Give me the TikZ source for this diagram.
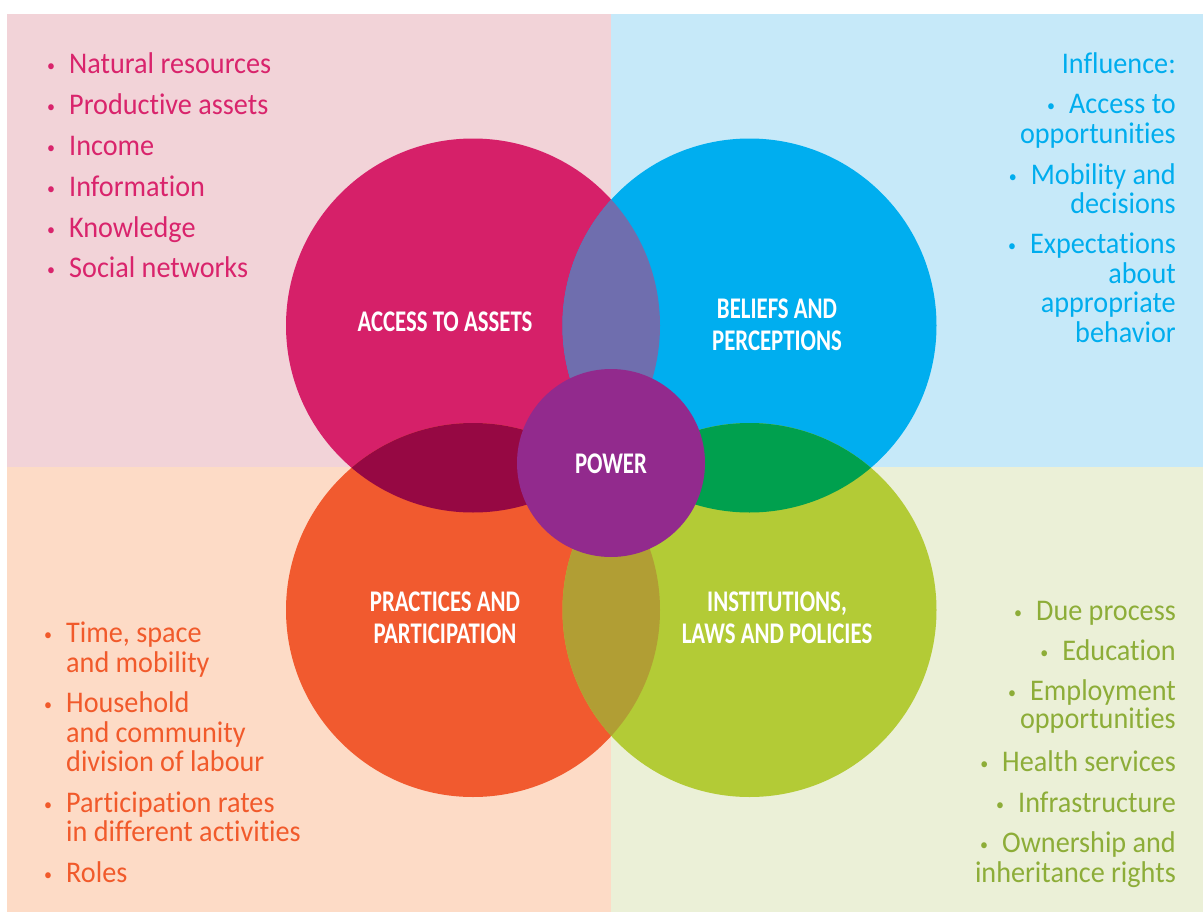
\documentclass[tikz,border=0pt]{standalone}
\usepackage{fontspec}
\setmainfont{Carlito}[FakeStretch=0.94, Ligatures={TeX,NoCommon}]
\newfontfamily\headfont{Carlito}[FakeStretch=0.76, Ligatures={TeX,NoCommon}]
\definecolor{bgpink}{HTML}{F2D3D8}
\definecolor{bgblue}{HTML}{C6E9F9}
\definecolor{bgpeach}{HTML}{FDDBC6}
\definecolor{bggreen}{HTML}{EBF0D7}
\definecolor{cpink}{HTML}{D62069}
\definecolor{cblue}{HTML}{00AEEF}
\definecolor{corange}{HTML}{F15A2F}
\definecolor{cgreen}{HTML}{B3CB36}
\definecolor{cpower}{HTML}{922A8D}
\definecolor{ovPB}{HTML}{6F6EAE}
\definecolor{ovPO}{HTML}{960843}
\definecolor{ovBG}{HTML}{00A04E}
\definecolor{ovOG}{HTML}{B19E34}
\definecolor{tpink}{HTML}{D9246C}
\definecolor{tblue}{HTML}{00ADEE}
\definecolor{torange}{HTML}{F15A2B}
\definecolor{tgreen}{HTML}{8DAD38}
\newcommand\bul{{\fontsize{17pt}{17pt}\selectfont\raisebox{1.5pt}{•}}}
\newcommand\bl[1]{\llap{\bul\hspace{#1}}}
\begin{document}
\begin{tikzpicture}[x=1pt,y=-1pt,
  body/.style={font=\fontsize{30pt}{30pt}\selectfont, inner sep=0pt},
  lbody/.style={body, anchor=base west},
  rbody/.style={body, anchor=base east},
  head/.style={font=\headfont\bfseries\fontsize{30pt}{30pt}\selectfont, text=white, inner sep=0pt, anchor=base},
  bigcircle/.style={circle, minimum size=374pt, inner sep=0pt},
]
\useasboundingbox (0,0) rectangle (1203,913);
\fill[white] (0,0) rectangle (1203,913);
% quadrants
\fill[bgpink] (7,14) rectangle (611,467);
\fill[bgblue] (611,14) rectangle (1203,467);
\fill[bgpeach] (7,467) rectangle (611,912);
\fill[bggreen] (611,467) rectangle (1203,912);
% circles
\node[bigcircle, fill=cpink] (assets) at (473,325.5) {};
\node[bigcircle, fill=cblue] (beliefs) at (749.5,325.5) {};
\node[bigcircle, fill=corange] (practices) at (473,610) {};
\node[bigcircle, fill=cgreen] (institutions) at (749.5,610) {};
\begin{scope}
  \clip (assets.center) circle (187pt);
  \fill[ovPB] (beliefs.center) circle (187pt);
  \fill[ovPO] (practices.center) circle (187pt);
\end{scope}
\begin{scope}
  \clip (institutions.center) circle (187pt);
  \fill[ovBG] (beliefs.center) circle (187pt);
  \fill[ovOG] (practices.center) circle (187pt);
\end{scope}
\node[circle, fill=cpower, minimum size=188pt, inner sep=0pt] (power) at (611,463) {};
% headings
\node[head] (hA) at (445,331) {ACCESS TO ASSETS};
\node[head] (hB1) at (777,318) {BELIEFS AND};
\node[head] (hB2) at (777,350) {PERCEPTIONS};
\node[head] (hP) at (611,473.5) {POWER};
\node[head] (hC1) at (445,611) {PRACTICES AND};
\node[head] (hC2) at (445,643) {PARTICIPATION};
\node[head] (hD1) at (777,611) {INSTITUTIONS,};
\node[head] (hD2) at (777,643) {LAWS AND POLICIES};
% top-left list
\begin{scope}[every node/.append style={lbody, text=tpink}]
\node (a1) at (69,73) {\bl{14pt}Natural resources};
\node (a2) at (69,114) {\bl{14pt}Productive assets};
\node (a3) at (69,155) {\bl{14pt}Income};
\node (a4) at (69,196) {\bl{14pt}Information};
\node (a5) at (69,237) {\bl{14pt}Knowledge};
\node (a6) at (69,277) {\bl{14pt}Social networks};
\end{scope}
% top-right list
\begin{scope}[every node/.append style={rbody, text=tblue}]
\node (b0) at (1176,73) {Influence:};
\node (b1) at (1176,113) {\bl{14pt}Access to};
\node (b1b) at (1176,143) {opportunities};
\node (b2) at (1176,184) {\bl{14pt}Mobility and};
\node (b2b) at (1176,213) {decisions};
\node (b3) at (1176,253) {\bl{14pt}Expectations};
\node (b3b) at (1176,283) {about};
\node (b3c) at (1176,312) {appropriate};
\node (b3d) at (1176,342) {behavior};
\end{scope}
% bottom-left list
\begin{scope}[every node/.append style={lbody, text=torange}]
\node (c1) at (66,642) {\bl{14pt}Time, space};
\node (c1b) at (66,672) {and mobility};
\node (c2) at (66,712) {\bl{14pt}Household};
\node (c2b) at (66,742) {and community};
\node (c2c) at (66,771) {division of labour};
\node (c3) at (66,812) {\bl{14pt}Participation rates};
\node (c3b) at (66,841) {in different activities};
\node (c4) at (66,882) {\bl{14pt}Roles};
\end{scope}
% bottom-right list
\begin{scope}[every node/.append style={rbody, text=tgreen}]
\node (d1) at (1176,620) {\bl{14pt}Due process};
\node (d2) at (1176,660) {\bl{14pt}Education};
\node (d3) at (1176,700) {\bl{14pt}Employment};
\node (d3b) at (1176,728) {opportunities};
\node (d4) at (1176,771) {\bl{14pt}Health services};
\node (d5) at (1176,812) {\bl{14pt}Infrastructure};
\node (d6) at (1176,852) {\bl{14pt}Ownership and};
\node (d6b) at (1176,882) {inheritance rights};
\end{scope}
\end{tikzpicture}
\end{document}
